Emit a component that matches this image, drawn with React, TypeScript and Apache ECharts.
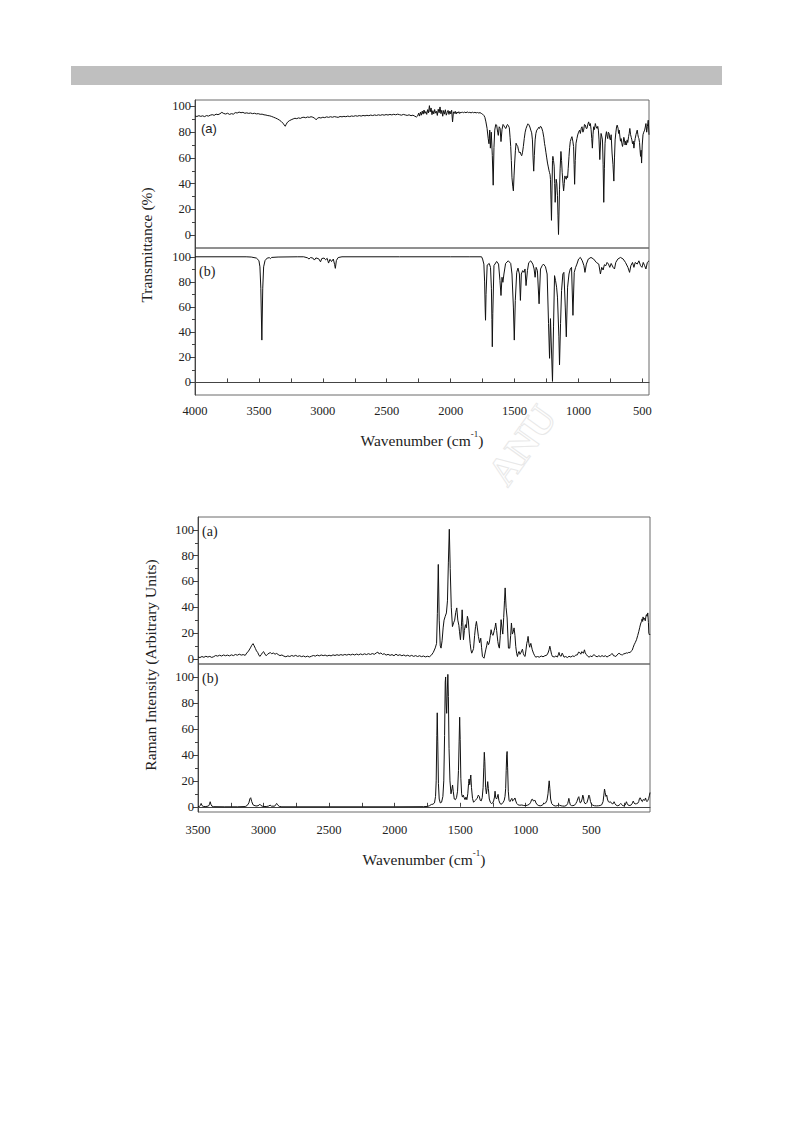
import React, { useEffect, useRef } from "react";
import * as echarts from "echarts";

// ---------- DATA ----------
// IR (a) experimental transmittance: [wavenumber, %T]
const IR_A: [number, number][] = [
  [4000,92.6],[3985,92.2],[3970,92.8],[3955,92.3],[3940,92.7],[3925,92.1],[3910,92.9],[3895,92.5],[3880,93.2],[3865,93.6],[3850,93.1],[3835,94.0],[3820,93.6],[3805,94.3],[3790,95.4],[3775,94.5],[3760,94.1],[3745,94.7],[3730,93.8],[3715,94.4],[3700,94.0],[3685,95.2],[3670,94.9],[3655,95.6],[3640,95.1],[3625,95.4],[3610,94.7],[3595,95.0],[3580,94.6],[3565,94.9],[3550,94.4],[3535,94.7],[3520,94.2],[3505,94.4],[3490,93.9],[3475,94.0],[3460,93.5],[3445,93.3],[3430,92.9],[3415,92.7],[3400,92.2],[3385,91.6],[3370,91.0],[3355,90.3],[3340,89.4],[3325,88.3],[3312,87.0],[3302,85.6],[3294,84.6],[3286,86.2],[3276,87.8],[3262,88.9],[3248,89.6],[3232,90.3],[3218,90.8],[3204,90.5],[3190,91.1],[3176,90.7],[3162,91.4],[3148,91.6],[3134,91.2],[3120,91.8],[3106,91.5],[3092,92.0],[3078,91.6],[3064,90.9],[3052,89.6],[3042,90.8],[3030,91.4],[3015,91.0],[3000,91.6],[2985,91.3],[2970,91.9],[2955,91.5],[2940,92.0],[2925,91.6],[2910,92.1],[2895,91.8],[2880,91.5],[2865,92.2],[2850,91.9],[2835,92.3],[2820,92.0],[2805,92.5],[2790,92.1],[2775,92.6],[2760,92.3],[2745,92.8],[2730,92.4],[2715,92.9],[2700,92.5],[2685,93.0],[2670,92.7],[2655,93.1],[2640,92.8],[2625,93.3],[2610,92.9],[2595,93.4],[2580,93.0],[2565,93.5],[2550,93.1],[2535,93.6],[2520,93.2],[2505,93.7],[2490,93.3],[2475,93.8],[2460,93.4],[2445,93.9],[2430,93.5],[2415,94.0],[2400,93.6],[2385,93.2],[2370,93.8],[2355,93.4],[2340,93.0],[2325,93.5],[2310,92.8],[2295,93.2],[2280,92.4],[2268,91.8],[2258,92.6],
  [2250,94.8],[2243,92.5],[2236,95.6],[2229,93.2],[2222,96.4],[2215,94.0],[2208,97.2],[2201,94.6],[2194,96.0],[2187,93.8],[2180,97.5],[2173,95.0],[2166,100.6],[2160,95.8],[2153,98.8],[2146,93.6],[2139,96.7],[2132,94.2],[2125,97.6],[2118,94.8],[2111,96.2],[2104,93.0],[2097,97.8],[2090,95.1],[2083,99.6],[2076,94.4],[2069,97.0],[2062,92.4],[2055,96.8],[2048,94.0],[2041,97.4],[2034,93.2],[2027,95.2],[2020,96.9],[2013,93.8],[2006,96.4],[1999,94.2],[1992,97.1],[1985,88.0],[1978,95.8],[1971,94.6],[1964,96.2],[1957,94.1],[1950,95.7],[1943,94.8],[1936,95.9],[1929,94.5],[1922,95.6],[1915,94.9],[1908,95.8],[1900,95.0],[1890,95.6],[1880,95.1],[1870,95.7],[1860,95.2],[1850,95.4],[1840,95.0],[1830,95.5],[1820,95.1],[1810,95.4],[1800,95.0],[1790,95.3],[1780,94.9],[1770,95.2],[1760,94.6],[1750,94.0],
  [1740,93.0],[1732,91.5],[1724,88],[1715,83],[1706,75],[1700,71],[1694,81.6],[1689,67.6],[1682,80],[1674,62],[1667,38.8],[1661,68],[1655,81.6],[1647,86],[1640,85.5],[1632,80],[1627,77.5],[1620,84.2],[1613,83],[1606,72.7],[1598,82],[1590,86],[1583,85],[1575,83.5],[1567,82.9],[1561,85],[1555,86],[1548,85],[1541,83.5],[1535,76],[1530,68.9],[1525,58],[1520,44.6],[1514,38],[1509,34.4],[1504,46],[1499,56],[1493,66],[1488,71.4],[1482,70],[1475,68.9],[1469,66],[1462,63.8],[1455,64.5],[1449,62.5],[1444,61.7],[1438,64],[1431,68.9],[1424,75],[1417,80],[1410,82.9],[1402,85],[1395,86.5],[1388,85.8],[1380,84],[1373,81.6],[1366,79.5],[1360,74],[1355,60],[1350,49.7],[1345,62],[1339,74],[1333,79],[1326,81.6],[1318,82.5],[1311,83.8],[1305,82.9],[1298,84.5],[1292,84.2],[1285,82.5],[1279,80.4],[1271,76],[1265,71],[1261,68.9],[1254,64],[1248,60],[1242,56],[1236,53],[1230,50],[1226,48.5],[1222,47],[1219,43.4],[1215,28],[1211,11.5],[1207,35],[1203,58],[1200,61.2],[1195,58],[1190,53.6],[1186,40],[1182,25.5],[1178,35],[1174,43.4],[1169,40],[1164,30.6],[1160,15],[1156,0.5],[1152,18],[1148,35.7],[1143,52],[1137,65],[1132,58],[1127,48.5],[1121,40],[1116,34.4],[1111,40],[1106,46],[1100,44],[1095,43.4],[1090,46],[1085,44.6],[1080,52],[1074,61.2],[1069,68],[1064,72.7],[1057,75],[1051,76.5],[1044,73],[1038,68.9],[1034,55],[1030,39.5],[1025,58],[1019,71.4],[1012,75],[1006,77.8],[999,80],[991,81.6],[985,79],[978,83],[972,84.2],[965,80],[959,81.6],[953,86],[946,85.5],[940,83],[933,82.9],[927,86],[920,88],[913,85],[907,86.7],[901,82],[896,75],[891,67.6],[886,78],[881,84.2],[875,82],[868,86.7],[861,84],[854,82.9],[849,84.5],[844,81.6],[839,74],[833,58.7],[828,70],[823,79],[818,77],[812,74],[807,55],[802,25.5],[797,52],[792,71.4],[787,77],[781,80.4],[776,77],[771,75],[766,80],[760,79],[755,75],[750,74],[744,78],[737,63.8],[730,55],[723,42],[718,60],[713,74],[707,80],[702,84],[697,85.5],[690,83],[686,79],[681,81.6],[676,77],[671,73],[666,75],[660,71],[655,68.9],[650,72],[645,76],[640,74],[635,70],[630,73],[624,70],[619,74],[614,72],[608,76.5],[603,79],[598,82.9],[592,78],[587,76],[582,74],[577,71],[571,73],[566,67.6],[561,72],[556,75],[550,78],[545,80],[540,81.6],[535,78],[531,76],[527,75],[522,72],[518,66],[514,61.2],[510,66],[506,56],[501,70],[495,78],[489,80],[482,81.6],[477,84],[472,86.7],[466,80],[461,84.2],[457,87],[454,89.3],[451,84],[448,78]
];

// IR (b) calculated transmittance
const IR_B: [number, number][] = [
  [4000,100],[3600,100],[3560,99.8],[3520,99],[3500,97],[3492,92],[3485,75],[3477,33.7],[3470,75],[3463,92],[3452,97],[3435,99],[3418,99.3],[3410,98.6],[3400,99.5],[3350,99.8],[3200,100],[3150,100],[3120,99.2],[3108,98.2],[3096,99.4],[3078,99],[3066,97.4],[3054,99.1],[3032,98.4],[3018,96.0],[3008,98.6],[2990,99],[2978,97.6],[2966,98.8],[2955,95.0],[2944,98],[2932,96.2],[2918,98.2],[2908,94],[2902,90.8],[2894,97],[2880,99.4],[2850,100],[2400,100],[2000,100],[1850,100],
  [1758,100],[1750,98.2],[1740,94.2],[1734,80],[1730,60],[1727,49.5],[1723,70],[1714,93.4],[1698,94.7],[1688,91.6],[1681,75],[1677,50],[1674,28.4],[1670,55],[1661,93],[1640,96.3],[1625,94.2],[1614,81],[1606,69.2],[1598,83.7],[1591,79.7],[1583,86.3],[1570,94.7],[1549,96.8],[1530,94.7],[1520,86.3],[1509,60],[1502,33.7],[1494,65.3],[1483,87.6],[1473,91],[1462,86.3],[1454,65.3],[1447,86.3],[1436,89],[1426,87.6],[1418,90.3],[1410,77.1],[1399,89],[1389,95.3],[1373,96.8],[1357,94.2],[1347,90.3],[1339,83.7],[1331,91.6],[1321,89],[1308,62.6],[1297,90.3],[1284,92.9],[1274,94.2],[1258,92.1],[1245,86.3],[1234,46.8],[1226,19.2],[1219,50.8],[1211,25.8],[1203,0.8],[1195,44.2],[1187,85],[1179,81],[1171,75.8],[1164,67.9],[1153,36.3],[1148,14],[1140,47],[1132,73.2],[1122,86.3],[1114,87.6],[1103,60],[1095,36.3],[1085,75.8],[1074,86.3],[1064,90.3],[1054,91.6],[1043,53.4],[1033,87.6],[1022,91.6],[1012,94.2],[999,98.2],[985,99.5],[970,96.8],[957,92.9],[949,87.6],[938,94.2],[923,98.2],[902,99.5],[881,98.2],[860,95.5],[841,94.2],[828,86.3],[818,91.6],[807,89.5],[797,93.7],[786,92.9],[776,95.5],[765,94.2],[755,91.6],[744,94.7],[729,91.6],[718,90.3],[708,95.5],[692,98.2],[671,99.5],[650,98.2],[632,95.5],[613,91.6],[600,87.6],[590,92.9],[577,95.5],[566,91.6],[556,95.5],[540,94.2],[527,96.8],[514,92.9],[503,91.6],[493,95.5],[482,92.9],[472,90.3],[461,95.5],[448,96.8]
];

// Raman (a) experimental intensity
const RAMAN_A: [number, number][] = [
  [3500,1.5],[3485,1.0],[3470,1.8],[3455,1.2],[3440,2.0],[3425,1.4],[3410,1.9],[3395,1.1],[3380,1.7],[3365,2.6],[3350,2.1],[3335,2.8],[3320,2.2],[3305,3.0],[3290,2.4],[3275,2.9],[3260,2.3],[3245,3.1],[3230,2.5],[3215,3.4],[3200,2.8],[3185,3.6],[3170,2.9],[3155,3.3],[3140,2.7],[3128,4.5],[3115,6.0],[3100,8.5],[3090,10.5],[3080,11.8],[3072,10.2],[3062,8.0],[3054,6.2],[3045,5.0],[3036,3.0],[3028,1.9],[3018,3.2],[3008,4.8],[3000,5.6],[2990,3.8],[2980,2.4],[2970,3.5],[2958,4.4],[2948,4.8],[2938,4.0],[2925,4.5],[2912,3.6],[2900,4.2],[2888,3.3],[2875,2.5],[2860,3.0],[2845,2.1],[2830,1.6],
  [2815,2.3],[2800,1.8],[2785,2.6],[2770,2.0],[2755,2.7],[2740,1.9],[2725,2.4],[2710,1.7],[2695,2.2],[2680,1.5],[2665,2.1],[2650,1.4],[2635,2.0],[2620,2.6],[2605,2.1],[2590,2.9],[2575,2.3],[2560,3.0],[2545,2.5],[2530,2.9],[2515,2.2],[2500,2.8],[2485,2.3],[2470,3.1],[2455,2.6],[2440,3.2],[2425,2.7],[2410,3.3],[2395,2.8],[2380,3.4],[2365,2.9],[2350,3.5],[2335,3.0],[2320,3.6],[2305,3.0],[2290,3.7],[2275,3.1],[2260,3.8],[2245,3.2],[2230,3.9],[2215,3.3],[2200,4.0],[2185,3.4],[2170,4.1],[2155,3.5],[2140,4.6],[2128,5.2],[2118,3.8],[2105,4.6],[2092,3.4],[2080,4.0],[2065,2.9],[2050,3.5],[2035,2.7],[2020,3.3],[2005,2.4],[1990,3.6],[1975,2.6],[1960,3.2],[1945,2.4],[1930,3.0],[1915,2.2],[1900,2.8],[1885,2.0],[1870,2.7],[1855,1.9],[1840,2.5],[1825,1.8],[1810,2.4],[1795,1.7],[1780,2.2],[1765,1.5],[1750,2.0],[1735,1.6],[1720,2.8],
  [1705,5.0],[1690,8.5],[1680,12],[1674,35],[1667,73.2],[1660,30],[1652,10],[1646,8.3],[1638,14],[1630,24],[1623,30],[1614,33],[1605,35.6],[1597,45],[1590,75],[1583,100.5],[1576,70],[1568,40],[1559,25],[1550,28],[1542,30],[1534,36],[1526,39.5],[1518,30],[1510,26],[1505,21],[1498,14.8],[1491,25],[1485,38],[1480,28],[1475,14.8],[1468,22],[1460,26.5],[1453,24],[1445,33],[1438,30],[1431,20],[1424,12],[1418,7],[1412,4.4],[1405,6],[1398,8],[1390,18],[1383,25],[1376,29],[1369,24],[1361,17.4],[1352,12.5],[1343,16],[1337,9],[1330,1.8],[1318,0.5],[1305,7],[1298,10],[1292,13.5],[1284,11],[1278,12.5],[1270,18],[1264,22.6],[1257,19],[1249,18.2],[1240,22],[1233,25],[1229,27.8],[1222,22],[1213,13.5],[1207,10],[1201,8.3],[1194,18],[1188,30.4],[1181,24],[1175,19.2],[1168,32],[1162,45],[1157,55],[1150,40],[1142,31.7],[1137,20],[1132,8.3],[1122,8.3],[1115,18],[1109,27.8],[1102,19.2],[1095,21],[1089,24],[1082,18],[1076,9.6],[1069,4],[1063,1.8],[1057,4.5],[1051,5.7],[1044,3.5],[1038,4.4],[1031,6.2],[1025,7.5],[1018,4],[1012,2.5],[1005,1.8],[998,7],[992,12],[987,14],[982,17.4],[976,12],[970,9],[966,10.5],[961,12],[957,12],[950,7],[941,4.4],[932,2.5],[924,1.3],[910,1.8],[896,1.3],[882,2.2],[868,1.6],[854,2.4],[840,2.8],[830,4.5],[822,7],[816,9.8],[810,7],[803,3.5],[796,1.8],[782,1.5],[770,2.2],[758,1.4],[750,3.6],[746,5],[740,2.6],[730,2.0],[722,4.4],[716,3.2],[708,1.3],[695,1.8],[682,1.0],[670,2.0],[656,1.4],[642,2.3],[630,1.8],[618,2.9],[606,3.1],[597,5.2],[588,4.9],[580,3.6],[572,5.6],[567,5.7],[560,4.3],[552,7.0],[546,4.6],[538,3.4],[528,2.1],[517,1.3],[505,2.2],[494,1.6],[482,3.2],[474,2.8],[465,2.0],[455,1.6],[442,2.4],[430,1.7],[418,2.5],[405,1.8],[392,2.4],[380,1.4],[368,2.2],[355,2.9],[345,3.8],[339,4.0],[330,2.4],[320,2.2],[313,1.8],[303,3.0],[295,3.9],[288,4.4],[280,3.6],[270,3.2],[262,3.1],[252,3.9],[242,4.1],[232,4.6],[224,4.4],[214,5.0],[205,4.9],[196,5.8],[188,6.6],[180,9.0],[173,10.9],[165,12.5],[155,14.8],[146,18],[138,21],[130,24.5],[124,27],[117,29],[112,31],[108,29],[105,32.5],[100,30.5],[94,31.5],[88,29.5],[83,33],[79,34.3],[74,33],[69,35.6],[64,28],[61,20],[56,18.5],[52,19]
];

// Raman (b) calculated intensity
const RAMAN_B: [number, number][] = [
  [3500,0.2],[3490,0.3],[3482,1],[3476,2.6],[3470,1],[3460,0.3],[3440,0.2],[3420,0.6],[3412,2],[3407,3.9],[3402,2],[3394,0.5],[3380,0.1],[3300,0],[3200,0],[3140,0.2],[3125,1],[3112,3],[3104,6.2],[3098,7],[3090,4],[3080,1.5],[3065,0.8],[3050,0.6],[3035,1.2],[3028,2],[3020,1],[3005,0.3],[2980,0.2],[2960,0.6],[2950,1.3],[2940,0.5],[2915,0.5],[2906,1.8],[2900,2.6],[2893,1.5],[2880,0.3],[2860,0],[2500,0],[2000,0],[1780,0.1],[1750,0.3],[1735,0.8],[1720,1.8],[1708,2],[1696,3],[1688,8],[1683,20],[1678,55],[1675,72.4],[1671,50],[1666,18],[1660,6],[1652,3],[1642,3.5],[1632,8],[1625,20],[1619,55],[1614,96],[1611,100],[1607,80],[1603,72],[1598,90],[1594,102],[1590,85],[1585,45],[1578,20],[1570,10],[1563,14],[1558,16.8],[1553,12],[1545,6],[1536,5.5],[1528,7],[1520,12],[1513,28],[1508,50],[1504,69],[1500,52],[1495,22],[1489,10],[1483,7.5],[1476,9],[1470,7],[1463,5.5],[1456,7.5],[1449,5.5],[1442,10],[1436,18],[1432,21.4],[1427,17],[1422,22],[1419,24.5],[1414,15],[1406,6.5],[1398,3.5],[1390,4.5],[1380,5.5],[1370,6.5],[1362,9],[1354,8],[1347,5],[1340,4.5],[1332,7],[1325,15],[1320,30],[1316,42],[1312,35],[1306,15],[1300,10],[1295,14],[1290,19.4],[1285,14],[1278,6],[1270,3.5],[1262,2.5],[1252,3],[1245,4.5],[1238,7.5],[1234,12],[1229,7],[1222,6],[1217,7.5],[1211,9.6],[1205,5],[1196,2.5],[1188,2],[1180,2.4],[1172,3.5],[1164,5],[1158,8],[1153,14],[1149,28],[1145,40],[1142,42.6],[1138,30],[1133,12],[1127,5],[1120,4],[1112,5.5],[1106,6.5],[1100,4.5],[1094,5],[1088,6],[1082,6.8],[1076,4.5],[1068,2.5],[1058,1.5],[1045,1.2],[1030,1.4],[1015,1],[1000,0.9],[985,1.3],[972,2],[962,3.5],[955,5.6],[948,5.8],[942,4.5],[935,4.8],[929,5],[922,3],[912,1.6],[900,0.9],[885,0.8],[870,1.5],[862,3],[856,2.5],[848,3],[838,5],[830,10],[825,16],[821,20],[816,14],[810,6],[802,2.5],[790,1.2],[775,0.6],[760,0.8],[750,1.6],[742,1.2],[730,0.8],[720,0.6],[705,0.5],[690,1],[680,2.5],[675,4.5],[671,6.5],[666,4],[660,1.5],[650,0.9],[640,0.9],[628,1.2],[618,2.5],[610,4],[600,7],[595,7.8],[590,5],[584,3],[578,3.5],[570,6],[565,9],[560,8],[555,4],[548,2.5],[540,2.5],[532,3.5],[525,6],[518,9],[513,8],[506,4],[498,2],[488,1.2],[475,0.8],[460,0.7],[445,0.8],[432,1],[420,1.6],[410,4],[404,9],[399,13.7],[394,11],[388,8],[382,9],[377,6],[370,4],[362,3.5],[355,4],[348,3],[340,2.4],[332,2.5],[326,3.9],[320,2.5],[310,1.2],[298,0.8],[288,1.2],[280,2],[275,2.6],[270,2],[262,1],[252,0.8],[240,1.5],[232,3.9],[226,2.5],[218,1.2],[205,1],[195,1.5],[186,2.8],[180,4.4],[174,3],[166,2.2],[155,2.4],[145,2.8],[138,4],[132,6.5],[127,7],[122,6],[116,4.5],[110,4],[105,5.5],[99,5.5],[92,5],[86,6.8],[81,5],[75,4],[68,5],[62,6.5],[56,9],[52,11]
];

// Tick values and labels
const IR_X_TICKS = [4000, 3750, 3500, 3250, 3000, 2750, 2500, 2250, 2000, 1750, 1500, 1250, 1000, 750, 500];
const IR_X_LABELS = [4000, 3500, 3000, 2500, 2000, 1500, 1000, 500];
const RAMAN_X_TICKS = [3500, 3250, 3000, 2750, 2500, 2250, 2000, 1750, 1500, 1250, 1000, 750, 500, 250];
const RAMAN_X_LABELS = [3500, 3000, 2500, 2000, 1500, 1000, 500];
const Y_LABELS = [0, 20, 40, 60, 80, 100];
const Y_MINOR = [10, 30, 50, 70, 90];

const SERIF = '"Liberation Serif", "Times New Roman", serif';
const plain = (v: number) => String(v);

export default function App() {
  const ref = useRef<HTMLDivElement>(null);

  useEffect(() => {
    if (!ref.current) return;
    const chart = echarts.init(ref.current, undefined, { renderer: "svg" });

    const grids = [
      { left: 195, top: 100, width: 454, height: 148 },
      { left: 195, top: 248, width: 454, height: 147 },
      { left: 198, top: 517, width: 452, height: 147 },
      { left: 198, top: 664, width: 452, height: 148 },
    ].map((g) => ({ ...g, show: true, borderColor: "#6a6a6a", borderWidth: 1, backgroundColor: "transparent", containLabel: false }));

    const xRanges = [
      { min: 448, max: 4000, ticks: IR_X_TICKS, labels: IR_X_LABELS },
      { min: 448, max: 4000, ticks: IR_X_TICKS, labels: IR_X_LABELS },
      { min: 52, max: 3500, ticks: RAMAN_X_TICKS, labels: RAMAN_X_LABELS },
      { min: 52, max: 3500, ticks: RAMAN_X_TICKS, labels: RAMAN_X_LABELS },
    ];
    const yRanges = [
      { min: -10, max: 105 },
      { min: -10, max: 107 },
      { min: -4, max: 110 },
      { min: -4, max: 110 },
    ];

    const xAxis: any[] = xRanges.map((r, i) => {
      const bottom = i === 1 || i === 3;
      return {
        type: "value",
        gridIndex: i,
        inverse: true,
        min: r.min,
        max: r.max,
        show: bottom,
        axisLine: { show: true, lineStyle: { color: "#444", width: 1 } },
        axisTick: { show: true, inside: true, length: 4, customValues: r.ticks, lineStyle: { color: "#444" } },
        axisLabel: { show: true, customValues: r.labels, formatter: plain, fontFamily: SERIF, fontSize: 12.5, color: "#222", margin: i === 1 ? 9 : 11 },
        splitLine: { show: false },
      };
    });

    const yAxis: any[] = [];
    yRanges.forEach((r, i) => {
      yAxis.push({
        type: "value",
        gridIndex: i,
        min: r.min,
        max: r.max,
        axisLine: { show: true, lineStyle: { color: "#444", width: 1 } },
        axisTick: { show: true, length: 5, customValues: Y_LABELS, lineStyle: { color: "#444" } },
        axisLabel: { show: true, customValues: Y_LABELS, formatter: plain, fontFamily: SERIF, fontSize: 12.5, color: "#222", margin: 4 },
        splitLine: { show: false },
      });
    });
    yRanges.forEach((r, i) => {
      yAxis.push({
        type: "value",
        gridIndex: i,
        min: r.min,
        max: r.max,
        position: "left",
        axisLine: { show: false },
        axisTick: { show: true, length: 3, customValues: Y_MINOR, lineStyle: { color: "#444" } },
        axisLabel: { show: false },
        splitLine: { show: false },
      });
    });

    const datasets = [IR_A, IR_B, RAMAN_A, RAMAN_B];
    const series = datasets.map((d, i) => ({
      type: "line",
      xAxisIndex: i,
      yAxisIndex: i,
      data: d,
      showSymbol: false,
      symbol: "none",
      silent: true,
      clip: true,
      lineStyle: { color: "#111", width: 1 },
    }));

    const supTitle = (x: number, y: number) => ({
      type: "text",
      x,
      y,
      style: {
        text: "{n|Wavenumber (cm}{s|-1}{n|)}",
        align: "center",
        verticalAlign: "middle",
        textAlign: "center",
        textVerticalAlign: "middle",
        fill: "#222",
        rich: {
          n: { fontFamily: SERIF, fontSize: 15.5, fill: "#222", lineHeight: 20, verticalAlign: "bottom" },
          s: { fontFamily: SERIF, fontSize: 9, fill: "#222", lineHeight: 20, verticalAlign: "top", padding: [1, 0, 0, 0] },
        },
      },
    });

    const yTitle = (x: number, y: number, text: string) => ({
      type: "text",
      x,
      y,
      rotation: Math.PI / 2,
      style: {
        text,
        font: `15.5px ${SERIF}`,
        fill: "#222",
        align: "center",
        verticalAlign: "middle",
        textAlign: "center",
        textVerticalAlign: "middle",
      },
    });

    const panelLabel = (x: number, y: number, text: string, font: string) => ({
      type: "text",
      x,
      y,
      style: { text, font, fill: "#222", align: "left", verticalAlign: "middle", textAlign: "left", textVerticalAlign: "middle" },
    });

    chart.setOption({
      animation: false,
      backgroundColor: "#ffffff",
      grid: grids,
      xAxis,
      yAxis,
      series,
      graphic: [
        { type: "rect", shape: { x: 71, y: 66, width: 651, height: 19 }, style: { fill: "#bfbfbf" }, silent: true },
        {
          type: "text",
          x: 522,
          y: 445,
          rotation: 0.95,
          z: -1,
          style: { text: "ANU", font: `bold 40px ${SERIF}`, fill: "none", stroke: "#e8e8e8", lineWidth: 1, align: "center", verticalAlign: "middle" },
          silent: true,
        },
        yTitle(146, 245, "Transmittance (%)"),
        yTitle(150, 665, "Raman Intensity (Arbitrary Units)"),
        supTitle(422, 438),
        supTitle(424, 857),
        panelLabel(201, 128, "(a)", `13px "Liberation Sans", Arial, sans-serif`),
        panelLabel(199, 271, "(b)", `14px ${SERIF}`),
        panelLabel(202, 531, "(a)", `14px ${SERIF}`),
        panelLabel(202, 678, "(b)", `14px ${SERIF}`),
      ],
    });

    return () => chart.dispose();
  }, []);

  return <div ref={ref} style={{ position: "absolute", left: 0, top: 0, width: 793, height: 1123 }} />;
}
